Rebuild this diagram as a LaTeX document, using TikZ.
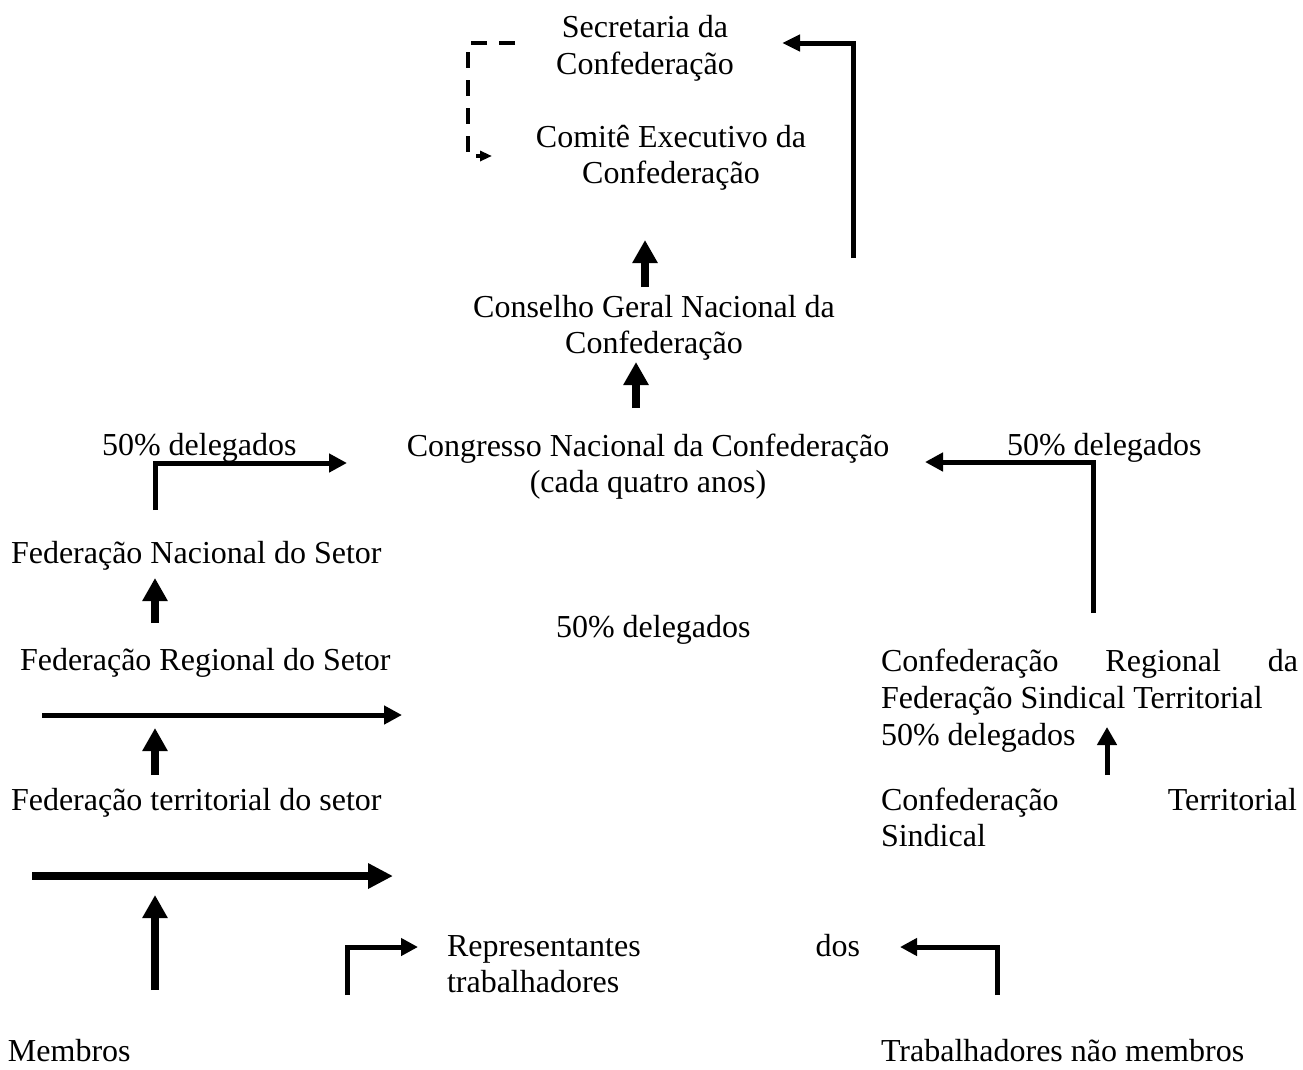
\documentclass[tikz,border=0pt]{standalone}
\usepackage{fontspec}
\setmainfont{Liberation Serif}
\usetikzlibrary{arrows.meta}
\newcommand{\tblock}[2]{\begin{tabular}[t]{@{}#1@{}}#2\end{tabular}}
\tikzset{
  txt/.style={inner sep=0pt, outer sep=0pt, font=\fontsize{32}{36.8}\selectfont},
  bigarrow/.style={line width=8pt, -{Triangle[length=23pt,width=24pt]}},
  midarrow/.style={line width=5pt, line join=miter, -{Triangle[length=18pt,width=18pt]}},
  smallarrow/.style={line width=5pt, -{Triangle[length=18pt,width=19pt]}},
  dasharrow/.style={line width=3.5pt, dash pattern=on 16pt off 12pt, line join=miter, -{Triangle[length=12pt,width=10pt]}}
}
\begin{document}
\begin{tikzpicture}[x=1pt,y=-1pt]
\useasboundingbox (0,0) rectangle (1303,1069);
% texts
\node[txt,anchor=base] (sec) at (645,37.5) {\tblock{c}{Secretaria da\\Confederação}};
\node[txt,anchor=base] (com) at (671,147) {\tblock{c}{Comitê Executivo da\\Confederação}};
\node[txt,anchor=base] (cons) at (654,317) {\tblock{c}{Conselho Geral Nacional da\\Confederação}};
\node[txt,anchor=base] (cong) at (648,456) {\tblock{c}{Congresso Nacional da Confederação\\(cada quatro anos)}};
\node[txt,anchor=base west] (dl) at (102,455) {50\% delegados};
\node[txt,anchor=base west] (dr) at (1007,455) {50\% delegados};
\node[txt,anchor=base west] (dc) at (556,637) {50\% delegados};
\node[txt,anchor=base west] (fnac) at (11,563) {Federação Nacional do Setor};
\node[txt,anchor=base west] (freg) at (20,670) {Federação Regional do Setor};
\node[txt,anchor=base west] (fter) at (11,810) {Federação territorial do setor};
\node[txt,anchor=base west] (creg) at (881,671.7) {\tblock{l}{\makebox[417pt][s]{Confederação Regional da}\\Federação Sindical Territorial\\50\% delegados}};
\node[txt,anchor=base west] (cter) at (881,810) {\tblock{l}{\makebox[416pt][s]{Confederação Territorial}\\Sindical}};
\node[txt,anchor=base west] (rep) at (447,956) {\tblock{l}{\makebox[413pt][s]{Representantes dos}\\trabalhadores}};
\node[txt,anchor=base west] (mem) at (8,1061) {Membros};
\node[txt,anchor=base west] (tnm) at (881,1061) {Trabalhadores não membros};
% coordinates
\coordinate (a1t) at (645,287); \coordinate (a1h) at (645,240);
\coordinate (a2t) at (636,408); \coordinate (a2h) at (636,362);
\coordinate (a3t) at (155,623); \coordinate (a3h) at (155,578);
\coordinate (a4t) at (155,775); \coordinate (a4h) at (155,728);
\coordinate (a5t) at (155,990); \coordinate (a5h) at (155,895);
\coordinate (a6t) at (1107,775); \coordinate (a6h) at (1107,727);
\coordinate (h1t) at (42,715); \coordinate (h1h) at (402,715);
\coordinate (h2t) at (32,876); \coordinate (h2h) at (393,876);
\coordinate (e1t) at (155,510); \coordinate (e1c) at (155,463); \coordinate (e1h) at (347,463);
\coordinate (e2t) at (1093,613); \coordinate (e2c) at (1093,462); \coordinate (e2h) at (925,462);
\coordinate (e3t) at (853,258); \coordinate (e3c) at (853,43); \coordinate (e3h) at (782,43);
\coordinate (e4t) at (347,995); \coordinate (e4c) at (347,947); \coordinate (e4h) at (418,947);
\coordinate (e5t) at (997,995); \coordinate (e5c) at (997,947); \coordinate (e5h) at (900,947);
\coordinate (d1) at (515,43); \coordinate (d2) at (468,43); \coordinate (d3) at (468,156); \coordinate (d4) at (492,156);
% arrows
\draw[bigarrow] (a1t) -- (a1h);
\draw[bigarrow] (a2t) -- (a2h);
\draw[bigarrow] (a3t) -- (a3h);
\draw[bigarrow] (a4t) -- (a4h);
\draw[bigarrow] (a5t) -- (a5h);
\draw[smallarrow] (a6t) -- (a6h);
\draw[midarrow] (h1t) -- (h1h);
\draw[bigarrow,-{Triangle[length=25pt,width=24pt]}] (h2t) -- (h2h);
\draw[midarrow] (e1t) -- (e1c) -- (e1h);
\draw[midarrow] (e2t) -- (e2c) -- (e2h);
\draw[midarrow,-{Triangle[length=18pt,width=16pt]}] (e3t) -- (e3c) -- (e3h);
\draw[midarrow,-{Triangle[length=17pt,width=17pt]}] (e4t) -- (e4c) -- (e4h);
\draw[midarrow,-{Triangle[length=17pt,width=17pt]}] (e5t) -- (e5c) -- (e5h);
\draw[dasharrow] (d1) -- (d2) -- (d3) -- (d4);
\end{tikzpicture}
\end{document}
